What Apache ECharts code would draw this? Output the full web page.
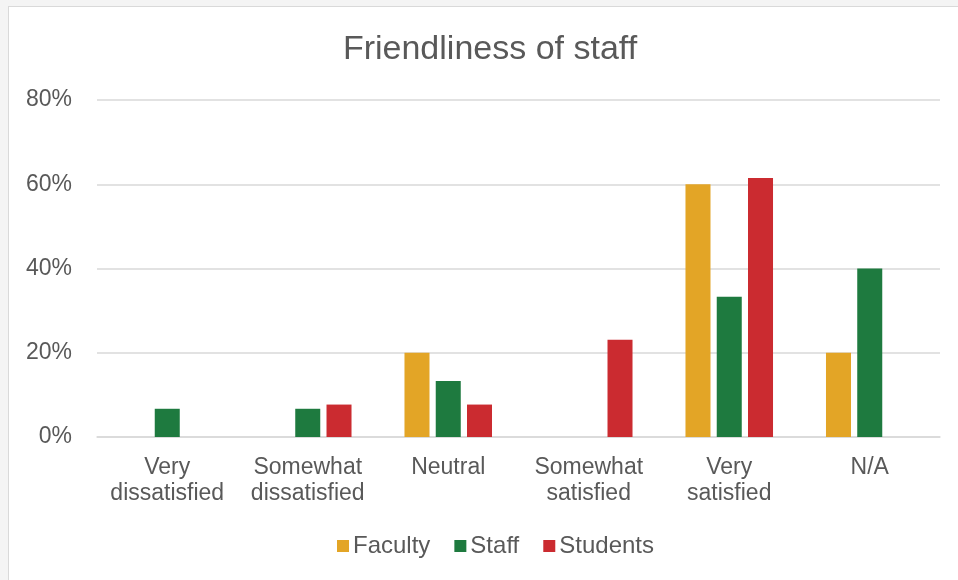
<!DOCTYPE html>
<html>
<head>
<meta charset="utf-8">
<script src="https://cdn.jsdelivr.net/npm/echarts@6/dist/echarts.min.js"></script>
<style>
html,body{margin:0;padding:0;background:#f4f4f4;overflow:hidden;}
#box{position:absolute;left:8px;top:6px;width:1000px;height:620px;background:#fff;border:1px solid #d9d9d9;}
#chart{position:absolute;left:0;top:0;width:958px;height:580px;}
</style>
</head>
<body>
<div id="box"></div>
<div id="chart"></div>
<script>
const categories = ['Very\ndissatisfied', 'Somewhat\ndissatisfied', 'Neutral', 'Somewhat\nsatisfied', 'Very\nsatisfied', 'N/A'];
const faculty = [null, null, 20, null, 60, 20];
const staff = [6.7, 6.7, 13.3, null, 33.3, 40];
const students = [null, 7.7, 7.7, 23.1, 61.5, null];
const yTicks = [0, 20, 40, 60, 80];

const chart = echarts.init(document.getElementById('chart'), null, {renderer: 'canvas'});
const font = 'Arial, "Liberation Sans", sans-serif';
const txt = '#595959';
chart.setOption({
  backgroundColor: 'transparent',
  title: {
    text: 'Friendliness of staff',
    left: 485, top: 28, textAlign: 'center',
    textStyle: {fontFamily: font, fontSize: 34, fontWeight: 'normal', color: txt}
  },
  legend: {
    data: ['Faculty', 'Staff', 'Students'],
    left: 332, top: 529,
    itemWidth: 12, itemHeight: 12, itemGap: 24, icon: 'rect',
    textStyle: {fontFamily: font, fontSize: 24, color: txt, padding: [0, 0, 0, -1]}
  },
  grid: {left: 97, right: 18, top: 100, bottom: 143, containLabel: false},
  xAxis: {
    type: 'category', data: categories,
    axisLine: {lineStyle: {color: '#d9d9d9', width: 1.5}},
    axisTick: {show: false},
    axisLabel: {fontFamily: font, fontSize: 23, color: txt, lineHeight: 26, margin: 18, interval: 0}
  },
  yAxis: {
    type: 'value', min: yTicks[0], max: yTicks[yTicks.length - 1], interval: 20,
    axisLine: {show: false}, axisTick: {show: false},
    splitLine: {lineStyle: {color: '#d9d9d9', width: 1.5}},
    axisLabel: {fontFamily: font, fontSize: 23, color: txt, margin: 25, formatter: v => v + '%'}
  },
  series: [
    {name: 'Faculty', type: 'bar', data: faculty, barWidth: '17.8%', barGap: '25%', itemStyle: {color: '#E3A526'}},
    {name: 'Staff', type: 'bar', data: staff, barWidth: '17.8%', barGap: '25%', itemStyle: {color: '#1E7A3F'}},
    {name: 'Students', type: 'bar', data: students, barWidth: '17.8%', barGap: '25%', itemStyle: {color: '#CB2B30'}}
  ]
});
</script>
</body>
</html>
